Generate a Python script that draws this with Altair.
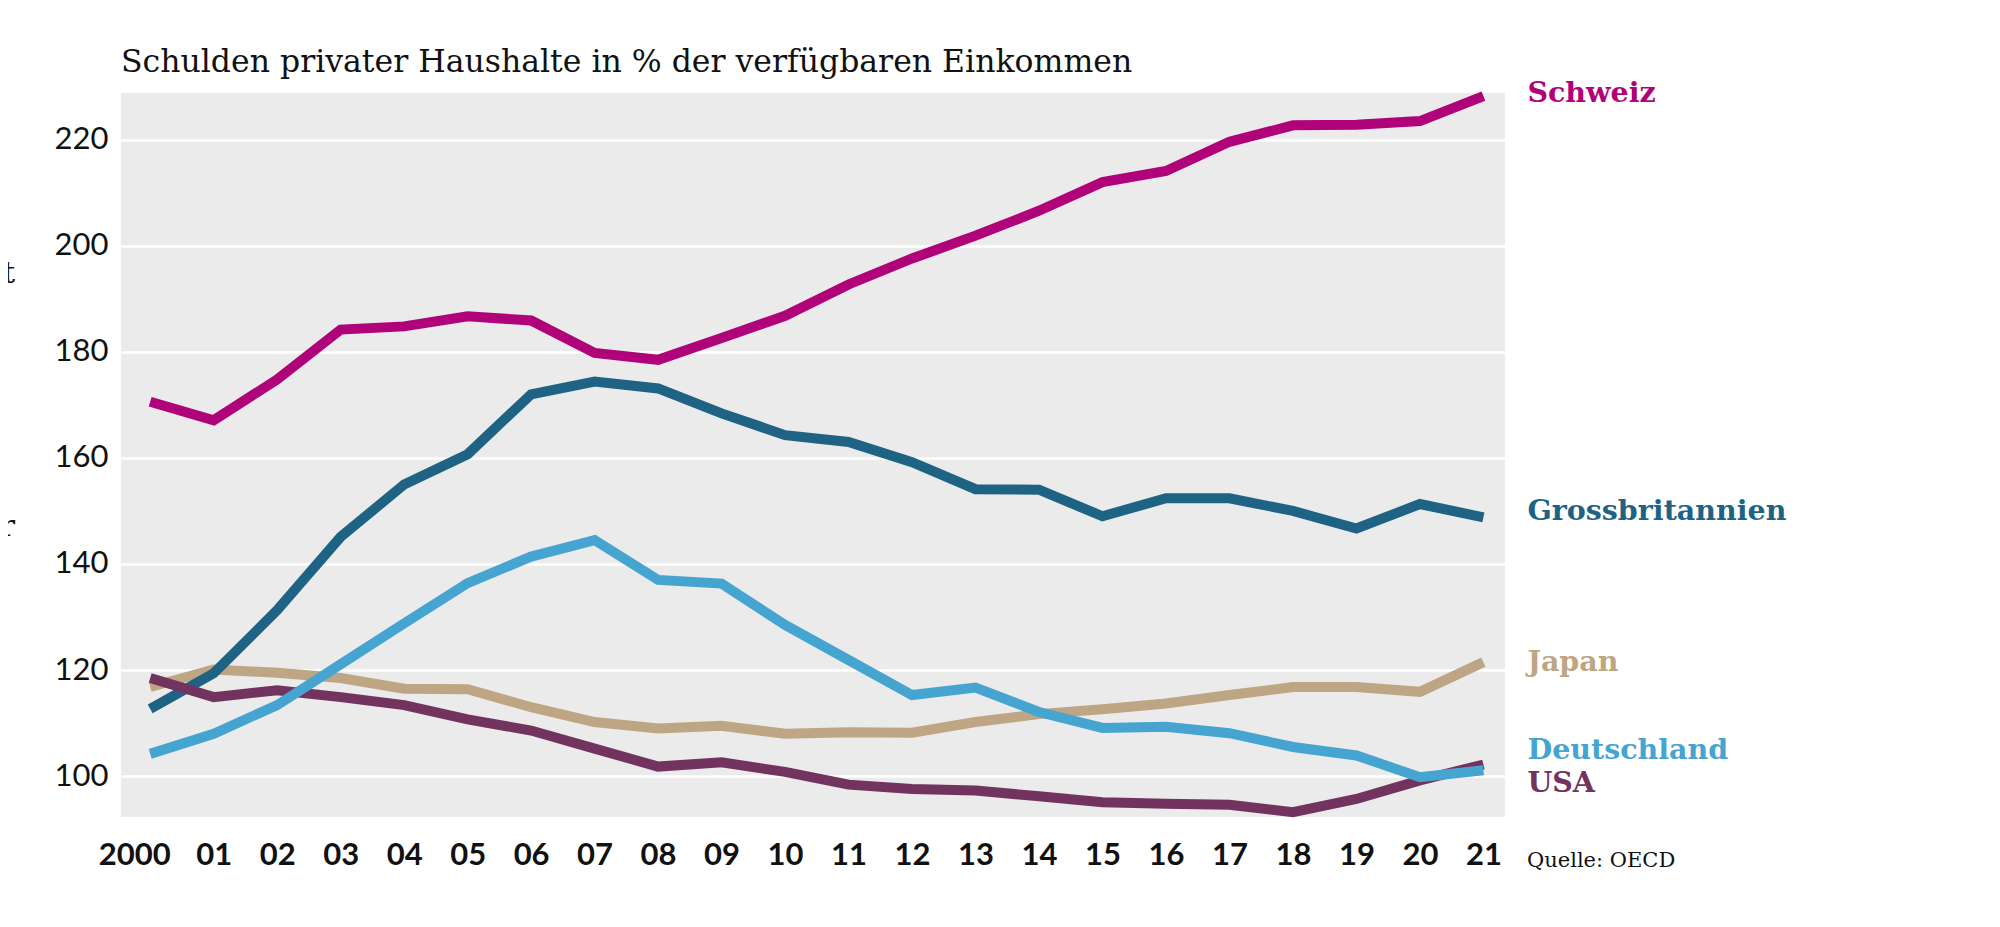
import json
import altair as alt
import pandas as pd

years = list(range(2000, 2022))
tick_labels = ["2000", "01", "02", "03", "04", "05", "06", "07", "08", "09", "10",
               "11", "12", "13", "14", "15", "16", "17", "18", "19", "20", "21"]
y_ticks = [100, 120, 140, 160, 180, 200, 220]

countries = ["Schweiz", "Grossbritannien", "Japan", "Deutschland", "USA"]
colors = ["#b0037a", "#1f6384", "#bea584", "#46a4d0", "#72345f"]

schweiz = [170.6, 167.1, 174.8, 184.2, 184.8, 186.7, 185.9, 179.8, 178.5, 182.6, 186.8,
           192.7, 197.6, 201.9, 206.6, 212.0, 214.1, 219.6, 222.7, 222.8, 223.5, 228.2]
grossbritannien = [112.7, 119.4, 131.3, 145.1, 155.0, 160.7, 172.0, 174.4, 173.1, 168.4, 164.3,
                   163.0, 159.2, 154.1, 154.0, 149.0, 152.4, 152.4, 150.0, 146.7, 151.3, 148.8]
japan = [116.8, 120.1, 119.5, 118.5, 116.5, 116.4, 113.0, 110.2, 109.0, 109.5, 108.0,
         108.3, 108.2, 110.2, 111.7, 112.6, 113.7, 115.3, 116.8, 116.8, 115.9, 121.5]
deutschland = [104.2, 108.0, 113.4, 121.1, 128.8, 136.4, 141.4, 144.5, 137.0, 136.3, 128.5,
               121.9, 115.3, 116.7, 112.1, 109.1, 109.3, 108.1, 105.5, 103.9, 99.8, 101.1]
usa = [118.5, 114.9, 116.2, 114.9, 113.4, 110.7, 108.6, 105.2, 101.8, 102.6, 100.8,
       98.4, 97.6, 97.3, 96.2, 95.1, 94.8, 94.6, 93.2, 95.7, 99.2, 102.2]

series = {"Schweiz": schweiz, "Grossbritannien": grossbritannien, "Japan": japan,
          "Deutschland": deutschland, "USA": usa}

# value at which each end label sits
label_values = [228.8, 150.0, 121.5, 104.9, 98.7]

title_text = "Schulden privater Haushalte in % der verfügbaren Einkommen"
source_text = "Quelle: OECD"

rows = []
for c in countries:
    for yr, v in zip(years, series[c]):
        rows.append({"country": c, "year": yr, "value": v})
df = pd.DataFrame(rows)

labels_df = pd.DataFrame({"country": countries, "year": [years[-1]] * len(countries),
                          "value": label_values})

x_scale = alt.Scale(domain=[1999.54, 2021.34], nice=False, zero=False)
y_scale = alt.Scale(domain=[92.3, 228.8], nice=False, zero=False)
c_scale = alt.Scale(domain=countries, range=colors)

x_axis = alt.Axis(values=years, labelExpr=f"{json.dumps(tick_labels)}[datum.value - 2000]",
                  grid=False, ticks=False, tickSize=0, domain=False, title=None,
                  labelFont="Lato", labelFontSize=31, labelFontWeight="bold",
                  labelColor="#111111", labelPadding=38, labelBaseline="middle",
                  labelOffset={"condition": {"test": "datum.value == 2000", "value": -16},
                               "value": 0},
                  labelFlush=False, labelOverlap=False)
y_axis = alt.Axis(values=y_ticks, grid=True, gridColor="#ffffff", gridWidth=2.5,
                  ticks=False, tickSize=0, domain=False, title=None,
                  labelFont="Lato", labelFontSize=31, labelColor="#111111",
                  labelPadding=13, labelBaseline="middle")

draw_order = ["Japan", "Grossbritannien", "USA", "Deutschland", "Schweiz"]
layers = []
for c in draw_order:
    layers.append(
        alt.Chart(df).transform_filter(alt.datum.country == c)
        .mark_line(strokeWidth=10, strokeJoin="miter", strokeCap="butt")
        .encode(
            x=alt.X("year:Q", scale=x_scale, axis=x_axis),
            y=alt.Y("value:Q", scale=y_scale, axis=y_axis),
            color=alt.Color("country:N", scale=c_scale, legend=None),
        )
    )

end_labels = alt.Chart(labels_df).mark_text(
    align="left", baseline="middle", dx=44, font="DejaVu Serif",
    fontSize=28.5, fontWeight="bold"
).encode(
    x=alt.X("year:Q", scale=x_scale, axis=x_axis),
    y=alt.Y("value:Q", scale=y_scale, axis=y_axis),
    text="country:N",
    color=alt.Color("country:N", scale=c_scale, legend=None),
)

title = alt.Chart(pd.DataFrame({"t": [title_text]})).mark_text(
    align="left", baseline="alphabetic", font="DejaVu Serif", fontSize=31.5,
    color="#111111"
).encode(x=alt.value(0), y=alt.value(-21), text="t:N")

source = alt.Chart(pd.DataFrame({"t": [source_text]})).mark_text(
    align="left", baseline="middle", font="DejaVu Serif", fontSize=21,
    color="#111111"
).encode(x=alt.value(1406), y=alt.value(768), text="t:N")

frag = alt.Chart(pd.DataFrame({"t": ["t", "r"], "py": [181, 434]})).mark_text(
    align="right", baseline="middle", font="DejaVu Serif", fontSize=30,
    color="#111111"
).encode(x=alt.value(-106), y=alt.Y("py:Q", scale=None, axis=None), text="t:N")

chart = alt.layer(*layers, end_labels, title, source, frag).properties(
    width=1384, height=724,
    autosize=alt.AutoSizeParams(type="none"),
    padding={"left": 113, "top": 85, "right": 480, "bottom": 100},
    background="#ffffff",
).configure_view(fill="#ebebeb", strokeWidth=0)

chart.save("out.html", embed_options={"renderer": "svg", "actions": False})
